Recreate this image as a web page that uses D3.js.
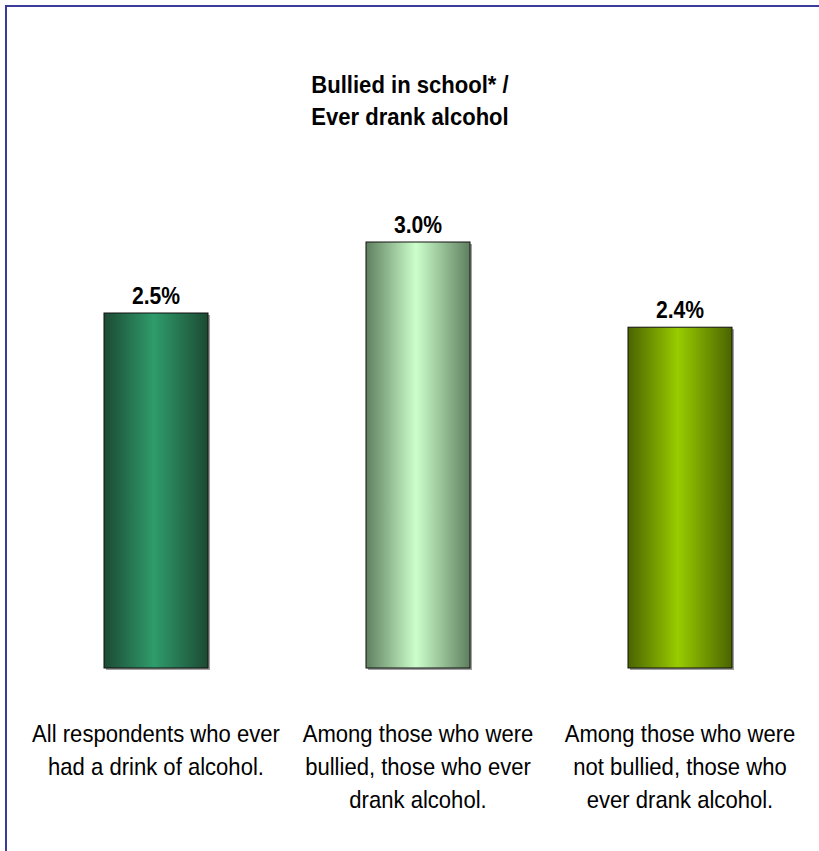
<!DOCTYPE html>
<html>
<head>
<meta charset="utf-8">
<script src="https://d3js.org/d3.v7.min.js"></script>
<style>
  body { margin: 0; background: #fff; }
  text { font-family: "Liberation Sans", Arial, sans-serif; }
</style>
</head>
<body>
<div id="chart"></div>
<script>
var categories = ["all", "bullied", "notBullied"];
var values = [2.5, 3.0, 2.4];
var valueLabels = ["2.5%", "3.0%", "2.4%"];
var categoryLabels = [
  ["All respondents who ever", "had a drink of alcohol."],
  ["Among those who were", "bullied, those who ever", "drank alcohol."],
  ["Among those who were", "not bullied, those who", "ever drank alcohol."]
];
var titleLines = ["Bullied in school* /", "Ever drank alcohol"];
// edge / centre colours of each bar's shading
var barEdge = ["#1c4a33", "#5f7f5f", "#4a6400"];
var barMid = ["#2f9c6c", "#ccffcc", "#99cc00"];

var width = 819, height = 851;
var squeeze = 0.92; // the original text is a bit narrower than Liberation Sans

var svg = d3.select("#chart").append("svg")
  .attr("width", width)
  .attr("height", height);

// frame (right and bottom run off the picture)
svg.append("rect")
  .attr("x", 6).attr("y", 6)
  .attr("width", 840).attr("height", 870)
  .attr("fill", "none")
  .attr("stroke", "#3b3b9c")
  .attr("stroke-width", 2);

var x = d3.scaleBand()
  .domain(categories)
  .range([25, 811])
  .paddingInner(0.603)
  .paddingOuter(0.3015);

var y = d3.scaleLinear()
  .domain([0, 3])
  .range([668, 242]);

var defs = svg.append("defs");
categories.forEach(function (c, i) {
  var g = defs.append("linearGradient")
    .attr("id", "grad" + i)
    .attr("x1", "0%").attr("x2", "100%")
    .attr("y1", "0%").attr("y2", "0%");
  g.append("stop").attr("offset", "0%").attr("stop-color", barEdge[i]);
  g.append("stop").attr("offset", "48%").attr("stop-color", barMid[i]);
  g.append("stop").attr("offset", "100%").attr("stop-color", barEdge[i]);
});

// centred multi-line text, narrowed a little
function addLines(cx, y0, step, lines, size, bold) {
  svg.append("g")
    .attr("transform", "translate(" + cx + ",0) scale(" + squeeze + ",1)")
    .append("text")
    .attr("text-anchor", "middle")
    .style("font-size", size + "px")
    .style("font-weight", bold ? "bold" : "normal")
    .selectAll("tspan")
    .data(lines)
    .enter().append("tspan")
    .attr("x", 0)
    .attr("y", function (d, j) { return y0 + j * step; })
    .text(function (d) { return d; });
}

// title
addLines(410, 93, 32, titleLines, 24, true);

// shadows
svg.selectAll(".shadow")
  .data(values)
  .enter().append("rect")
  .attr("class", "shadow")
  .attr("x", function (d, i) { return x(categories[i]) + 2; })
  .attr("y", function (d) { return y(d) + 2; })
  .attr("width", x.bandwidth())
  .attr("height", function (d) { return y(0) - y(d); })
  .attr("fill", "#a0a0a0");

// bars
svg.selectAll(".bar")
  .data(values)
  .enter().append("rect")
  .attr("class", "bar")
  .attr("x", function (d, i) { return x(categories[i]); })
  .attr("y", function (d) { return y(d); })
  .attr("width", x.bandwidth())
  .attr("height", function (d) { return y(0) - y(d); })
  .attr("fill", function (d, i) { return "url(#grad" + i + ")"; })
  .attr("stroke", "#111")
  .attr("stroke-width", 1);

// value labels
values.forEach(function (d, i) {
  addLines(x(categories[i]) + x.bandwidth() / 2, y(d) - 9, 0, [valueLabels[i]], 23, true);
});

// category labels
categories.forEach(function (c, i) {
  addLines(x(c) + x.bandwidth() / 2, 742, 33, categoryLabels[i], 24, false);
});
</script>
</body>
</html>
